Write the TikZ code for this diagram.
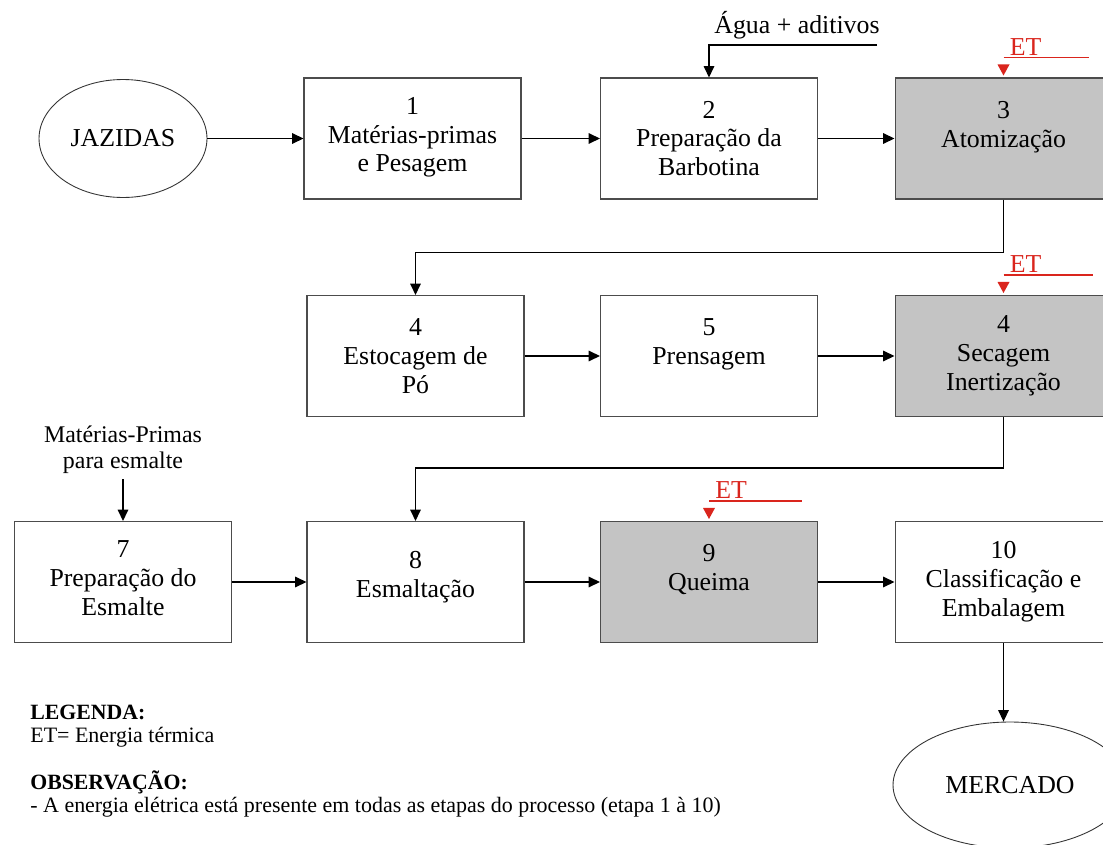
\documentclass[tikz,border=0pt]{standalone}
\usepackage{fontspec}
\setmainfont{Liberation Serif}
\usetikzlibrary{calc,shapes.geometric,arrows.meta}
\definecolor{stagegray}{RGB}{196,196,196}
\definecolor{etred}{RGB}{218,37,29}
\newcommand\boxfont{\fontsize{14.7pt}{16.4pt}\selectfont}
\newcommand\notefont{\fontsize{12.5pt}{14pt}\selectfont}
\tikzset{
	stage/.style={
			draw=black!70, line width=0.6pt, rectangle,
			minimum width=4.34cm, minimum height=2.42cm,
			align=center, inner sep=0pt, font=\boxfont
		},
	heated/.style={stage, fill=stagegray},
	deposit/.style={draw=black!80, line width=0.5pt, ellipse, inner sep=0pt, font=\boxfont},
	flow/.style={draw=black, line width=0.8pt, -{Triangle[width=6pt,length=6.5pt]}},
	ettext/.style={text=etred, font=\boxfont, inner sep=0pt},
	note/.style={anchor=base west, inner sep=0pt, text height=9pt, text depth=2.5pt, font=\notefont}
}

\begin{document}
\begin{tikzpicture}[x=0.02cm, y=-0.02cm]
	\clip (0,0) rectangle (1103,845);
	\fill[white] (0,0) rectangle (1103,845);

	% row 1
	\node[deposit, minimum width=3.36cm, minimum height=2.36cm] (jaz) at (123,138.5) {JAZIDAS};
	\node[stage] (b1) at (412.5,138.5) {1\\Matérias-primas\\e Pesagem\\[-12pt]\phantom{X}};
	\node[stage] (b2) at (709,138.5) {2\\Preparação da\\Barbotina};
	\node[heated] (b3) at (1003.5,138.5) {3\\Atomização\\\phantom{X}};

	% row 2
	\node[stage] (b4) at (415.5,356) {4\\Estocagem de\\Pó};
	\node[stage] (b5) at (709,356) {5\\Prensagem\\\phantom{X}};
	\node[heated] (b6) at (1003.5,356) {4\\Secagem\\Inertização};

	% row 3
	\node[stage] (b7) at (123,582) {7\\Preparação do\\Esmalte\\[-12pt]\phantom{X}};
	\node[stage] (b8) at (415.5,582) {8\\Esmaltação\\[-8pt]\phantom{X}};
	\node[heated] (b9) at (709,582) {9\\Queima\\\phantom{X}};
	\node[stage] (b10) at (1003.5,582) {10\\Classificação e\\Embalagem};

	\node[deposit, minimum width=4.68cm, minimum height=2.52cm] (mer) at (1010,785) {MERCADO};

	% inputs
	\node[font=\boxfont, inner sep=0pt] (agua) at (797,25) {Água + aditivos};
	\coordinate (aguaIn) at (877,45);
	\node[font=\fontsize{13.6pt}{14.7pt}\selectfont, align=center, inner sep=3pt] (mpe) at (123,450) {Matérias-Primas\\para esmalte};

	% flow
	\draw[flow] (jaz.east) -- (b1.west);
	\draw[flow] (b1) -- (b2);
	\draw[flow] (b2) -- (b3);
	\draw[flow] (b3.south) -- ++(0,53) -| (b4.north);
	\draw[flow] (b4) -- (b5);
	\draw[flow] (b5) -- (b6);
	\draw[flow] (b6.south) -- ++(0,51) -| (b8.north);
	\draw[flow] (b7) -- (b8);
	\draw[flow] (b8) -- (b9);
	\draw[flow] (b9) -- (b10);
	\draw[flow, line width=0.6pt] (b10.south) -- (b10.south |- mer.north);
	\draw[flow] (aguaIn) -| (b2.north);
	\draw[flow] (mpe.south) -- (b7.north);

	% thermal energy
	\foreach \b/\len in {b3/85, b6/89, b9/93}{
			\node[ettext, anchor=base west] (et\b) at ($(\b.north)+(6,-22)$) {ET};
			\draw[etred, line width=0.6pt] ($(\b.north)+(0,-20)$) -- ++(\len,0);
			\fill[etred] ($(\b.north)+(-6,-13)$) -- ++(12,0) -- ($(\b.north)+(0,-2)$) -- cycle;
		}

	% legend
	\node[note, font=\fontsize{12.4pt}{14pt}\selectfont\bfseries] (leg) at (30,719) {LEGENDA:};
	\node[note] (legET) at (30,742) {ET= Energia térmica};
	\node[note, font=\fontsize{12.4pt}{14pt}\selectfont\bfseries] (obs) at (30,789) {OBSERVAÇÃO:};
	\node[note] (obsText) at (30,812) {- A energia elétrica está presente em todas as etapas do processo (etapa 1 à 10)};
\end{tikzpicture}
\end{document}
